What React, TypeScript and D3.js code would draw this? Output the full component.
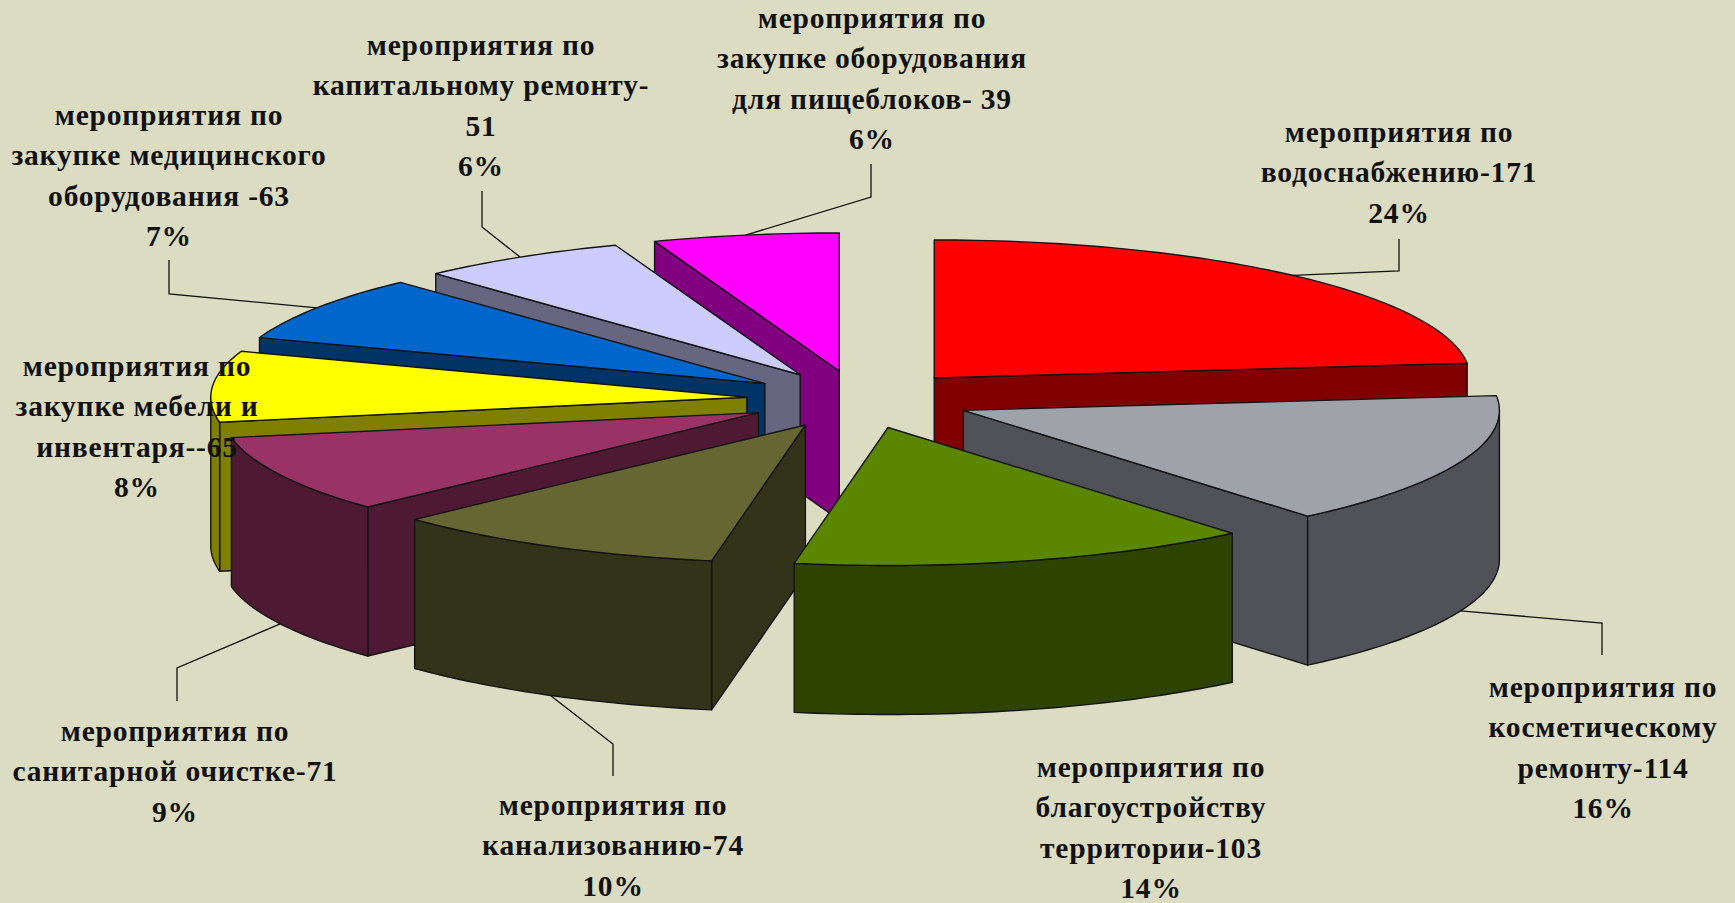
import React from "react";
import * as d3 from "d3";

// --- data ---
const categories = ["водоснабжение", "косметический ремонт", "благоустройство", "канализование", "санитарная очистка", "мебель и инвентарь", "медицинское оборудование", "капитальный ремонт", "оборудование пищеблоков"];
// angular share of each wedge, as measured in the picture (printed percents are rounded)
const sliceShares = [23.3, 15.6, 13.9, 10.2, 9.1, 8.3, 7.7, 6.3, 5.6];
const labelLines = [
  ["мероприятия по", "водоснабжению-171", "24%"],
  ["мероприятия по", "косметическому", "ремонту-114", "16%"],
  ["мероприятия по", "благоустройству", "территории-103", "14%"],
  ["мероприятия по", "канализованию-74", "10%"],
  ["мероприятия по", "санитарной очистке-71", "9%"],
  ["мероприятия по", "закупке мебели и", "инвентаря--65", "8%"],
  ["мероприятия по", "закупке медицинского", "оборудования -63", "7%"],
  ["мероприятия по", "капитальному ремонту-", "51", "6%"],
  ["мероприятия по", "закупке оборудования", "для пищеблоков- 39", "6%"],
];
const topColors = ["#ff0000", "#a0a2aa", "#5b8700", "#666633", "#993366", "#ffff00", "#0066cc", "#ccccff", "#ff00ff"];
const sideColors = ["#800000", "#505257", "#2e4300", "#333319", "#4d1933", "#808000", "#003366", "#666680", "#800080"];

// --- layout ---
const WIDTH = 1735, HEIGHT = 903;
const CX = 859, CY = 399.5, RX = 536, RY = 138, DEPTH = 149, EXPLODE = 0.21;
const FONT_SIZE = 29.5, LINE_H = 40.4;
const labelCenters = [1399, 1603, 1151, 613, 175, 137, 169, 481, 872];
const labelFirstBaselines = [142, 697, 777, 815, 741, 376, 125, 55, 28];
const leaderElbows: ([number, number][] | null)[] = [
  [[1399, 271], [1399, 239]],
  [[1602, 623], [1602, 655]],
  null,
  [[613, 744], [613, 776]],
  [[177, 668], [177, 701]],
  null,
  [[169, 294], [169, 260]],
  [[482, 227], [482, 191]],
  [[871, 197], [871, 164]],
];
const leaderWall = [false, true, true, true, true, false, false, false, false];

// --- scales & geometry ---
const sx = d3.scaleLinear().domain([-1, 1]).range([CX - RX, CX + RX]);
const sy = d3.scaleLinear().domain([-1, 1]).range([CY - RY, CY + RY]);
const pieGen = d3.pie<number>().sort(null).value((d) => d);
const arcs = pieGen(sliceShares);
const line = d3.line<[number, number]>().x((d) => d[0]).y((d) => d[1]);

function toPoint(a: number, e: number, r: number, drop: number): [number, number] {
  const ox = Math.sin(e) * EXPLODE, oy = -Math.cos(e) * EXPLODE;
  return [sx(ox + r * Math.sin(a)), sy(oy - r * Math.cos(a)) + drop];
}
function sampleAngles(a0: number, a1: number) {
  const n = Math.max(2, Math.ceil((a1 - a0) / 0.02));
  return d3.range(n + 1).map((i) => a0 + ((a1 - a0) * i) / n);
}

const wedges = arcs.map((arc, i) => {
  const mid = (arc.startAngle + arc.endAngle) / 2;
  const apex = toPoint(0, mid, 0, 0);
  const start = toPoint(arc.startAngle, mid, 1, 0);
  const end = toPoint(arc.endAngle, mid, 1, 0);
  const rim = sampleAngles(arc.startAngle, arc.endAngle).map((a) => toPoint(a, mid, 1, 0));
  const top = line([apex, ...rim])! + "Z";
  const wall = (p: [number, number], q: [number, number]) =>
    line([p, q, [q[0], q[1] + DEPTH], [p[0], p[1] + DEPTH]])! + "Z";
  const walls: string[] = [];
  if (start[0] < apex[0] - 0.5) walls.push(wall(apex, start));
  if (end[0] > apex[0] + 0.5) walls.push(wall(end, apex));
  const f0 = Math.max(arc.startAngle, Math.PI / 2), f1 = Math.min(arc.endAngle, (3 * Math.PI) / 2);
  let outer: string | null = null;
  if (f1 > f0) {
    const upper = sampleAngles(f0, f1).map((a) => toPoint(a, mid, 1, 0));
    const lower = upper.map((p) => [p[0], p[1] + DEPTH] as [number, number]).reverse();
    outer = line([...upper, ...lower])! + "Z";
  }
  const anchor = toPoint(mid, mid, 1, leaderWall[i] ? DEPTH : 0);
  return { i, mid, top, walls, outer, anchor };
});
const drawOrder = d3.range(wedges.length).sort((a, b) => d3.ascending(-Math.cos(wedges[a].mid), -Math.cos(wedges[b].mid)));

const textStyle: React.CSSProperties = {
  fontFamily: "'Liberation Serif', serif",
  fontWeight: 700,
  fontSize: FONT_SIZE,
  letterSpacing: 0.8,
};

export default function App() {
  return (
    <svg width={WIDTH} height={HEIGHT} viewBox={`0 0 ${WIDTH} ${HEIGHT}`} style={{ position: "fixed", left: 0, top: 0, background: "#dcdcc3" }}>
      {leaderElbows.map((pts, i) =>
        pts ? <path key={i} d={line([wedges[i].anchor, ...pts])!} fill="none" stroke="#111" strokeWidth={1.3} /> : null
      )}
      {drawOrder.map((idx) => {
        const w = wedges[idx];
        return (
          <g key={categories[idx]} stroke="#141414" strokeWidth={1.4} strokeLinejoin="round">
            {w.walls.map((d, k) => <path key={k} d={d} fill={sideColors[idx]} />)}
            {w.outer && <path d={w.outer} fill={sideColors[idx]} />}
            <path d={w.top} fill={topColors[idx]} />
          </g>
        );
      })}
      {labelLines.map((lines, i) => (
        <text key={i} textAnchor="middle" fill="#111" style={textStyle}>
          {lines.map((t, k) => (
            <tspan key={k} x={labelCenters[i]} y={labelFirstBaselines[i] + k * LINE_H}>{t}</tspan>
          ))}
        </text>
      ))}
    </svg>
  );
}
